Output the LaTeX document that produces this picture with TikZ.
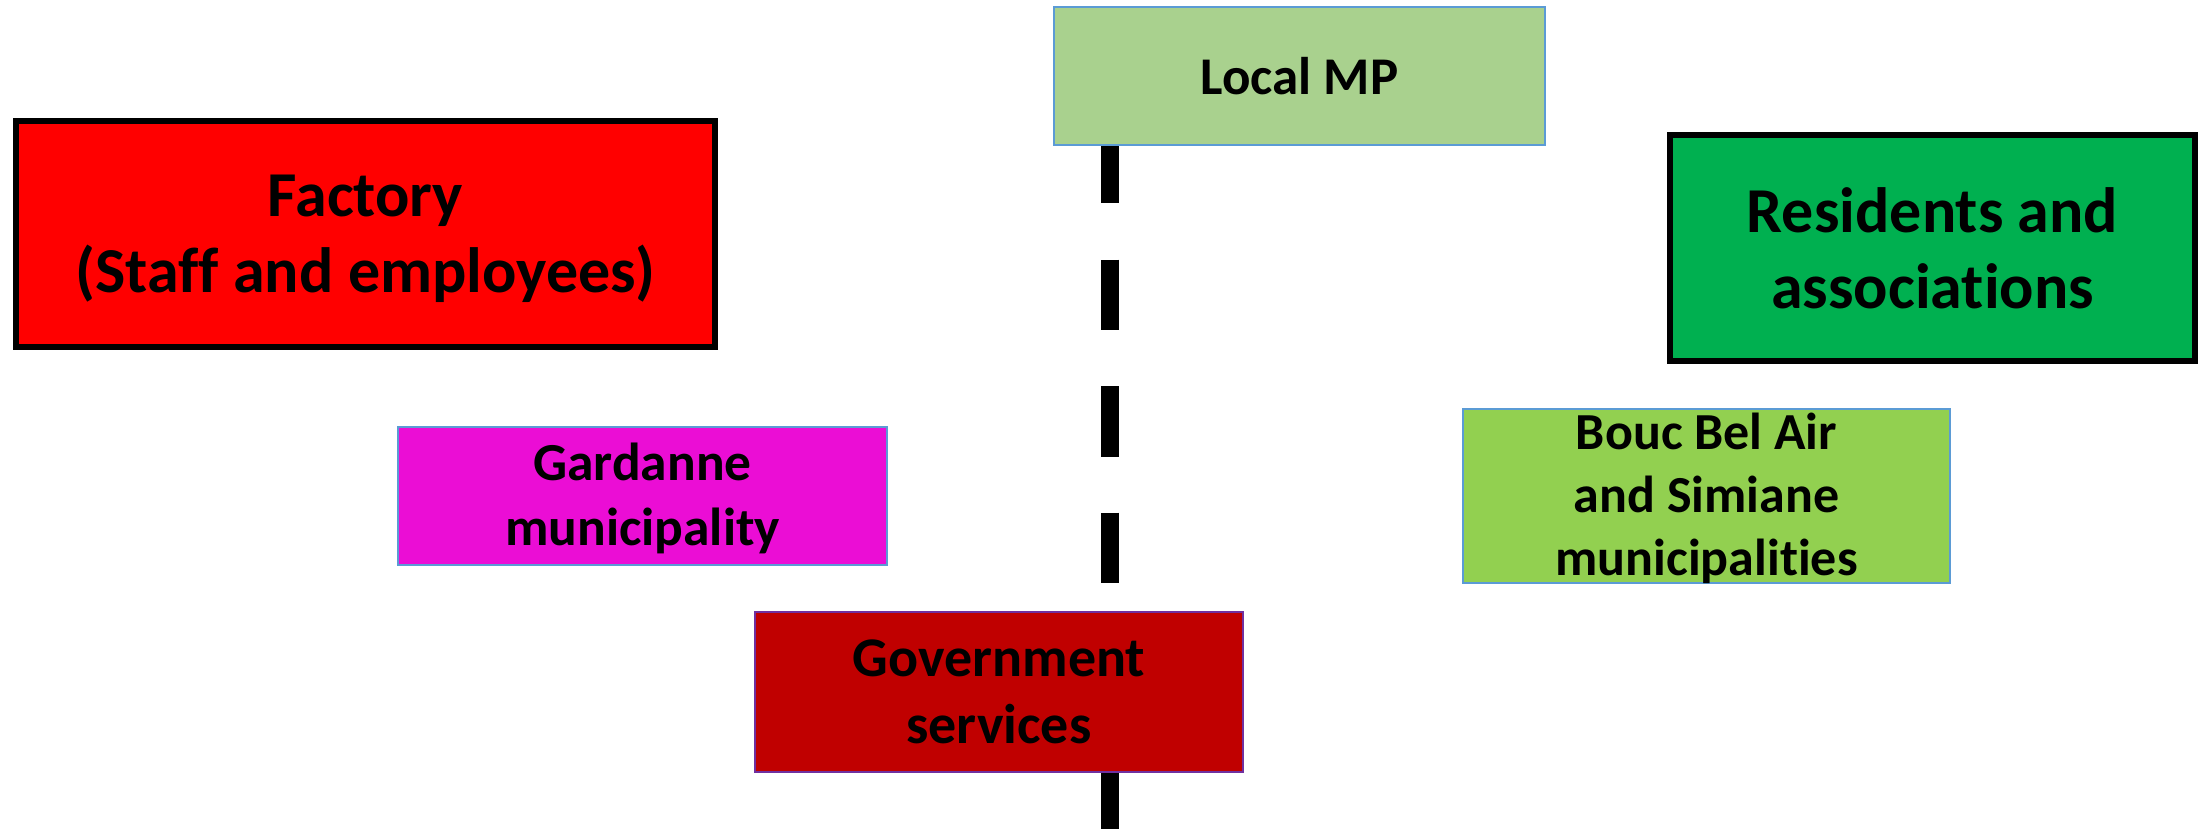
\documentclass[tikz,border=0pt]{standalone}
\usepackage{fontspec}
\setmainfont{Carlito}[Ligatures=NoCommon]
\begin{document}
\begin{tikzpicture}[x=1pt,y=-1pt,
                    box/.style = {draw, inner sep=0pt, align=center, font=\bfseries\fontsize{52}{63}\selectfont},
                    bigbox/.style = {box, line width=6pt, draw=black, font=\bfseries\fontsize{64}{76}\selectfont},
                    thinbox/.style = {box, line width=1.5pt},
                    axis/.style = {line width=18pt, dash pattern=on 70.5pt off 56pt}]
                    \useasboundingbox (0,0) rectangle (2203,829);

                    % axis
                    \coordinate (axtop) at (1110,133);
                    \coordinate (axbot) at (1110,829);
                    \draw[axis] (axtop) -- (axbot);

                    % big boxes
                    \node[bigbox, fill={rgb,255:red,255;green,0;blue,0}, minimum width=699pt, minimum height=226pt, text depth=1pt]
                        (factory) at (365.5,234) {Factory\\(Staff and employees)};
                    \node[bigbox, fill={rgb,255:red,0;green,176;blue,80}, minimum width=525pt, minimum height=226pt]
                        (residents) at (1932.5,248) {Residents and\\associations};

                    % small boxes
                    \node[thinbox, draw={rgb,255:red,91;green,155;blue,213}, fill={rgb,255:red,169;green,209;blue,142},
                          minimum width=491pt, minimum height=138pt, font=\bfseries\fontsize{53}{63}\selectfont]
                        (localmp) at (1299.5,76) {Local MP};
                    \node[thinbox, draw={rgb,255:red,91;green,155;blue,213}, fill={rgb,255:red,235;green,13;blue,213},
                          minimum width=489pt, minimum height=138pt, text depth=3pt, font=\bfseries\fontsize{53.5}{65}\selectfont]
                        (gardanne) at (642.5,496) {Gardanne\\municipality};
                    \node[thinbox, draw={rgb,255:red,91;green,155;blue,213}, fill={rgb,255:red,146;green,208;blue,80},
                          minimum width=487pt, minimum height=174pt, text depth=4pt]
                        (bouc) at (1706.5,496) {Bouc Bel Air\\and Simiane\\municipalities};
                    \node[thinbox, draw={rgb,255:red,112;green,48;blue,160}, fill={rgb,255:red,192;green,0;blue,0},
                          minimum width=488pt, minimum height=160pt, font=\bfseries\fontsize{56}{67}\selectfont]
                        (govt) at (999,692) {Government\\services};

                \end{tikzpicture}
\end{document}
